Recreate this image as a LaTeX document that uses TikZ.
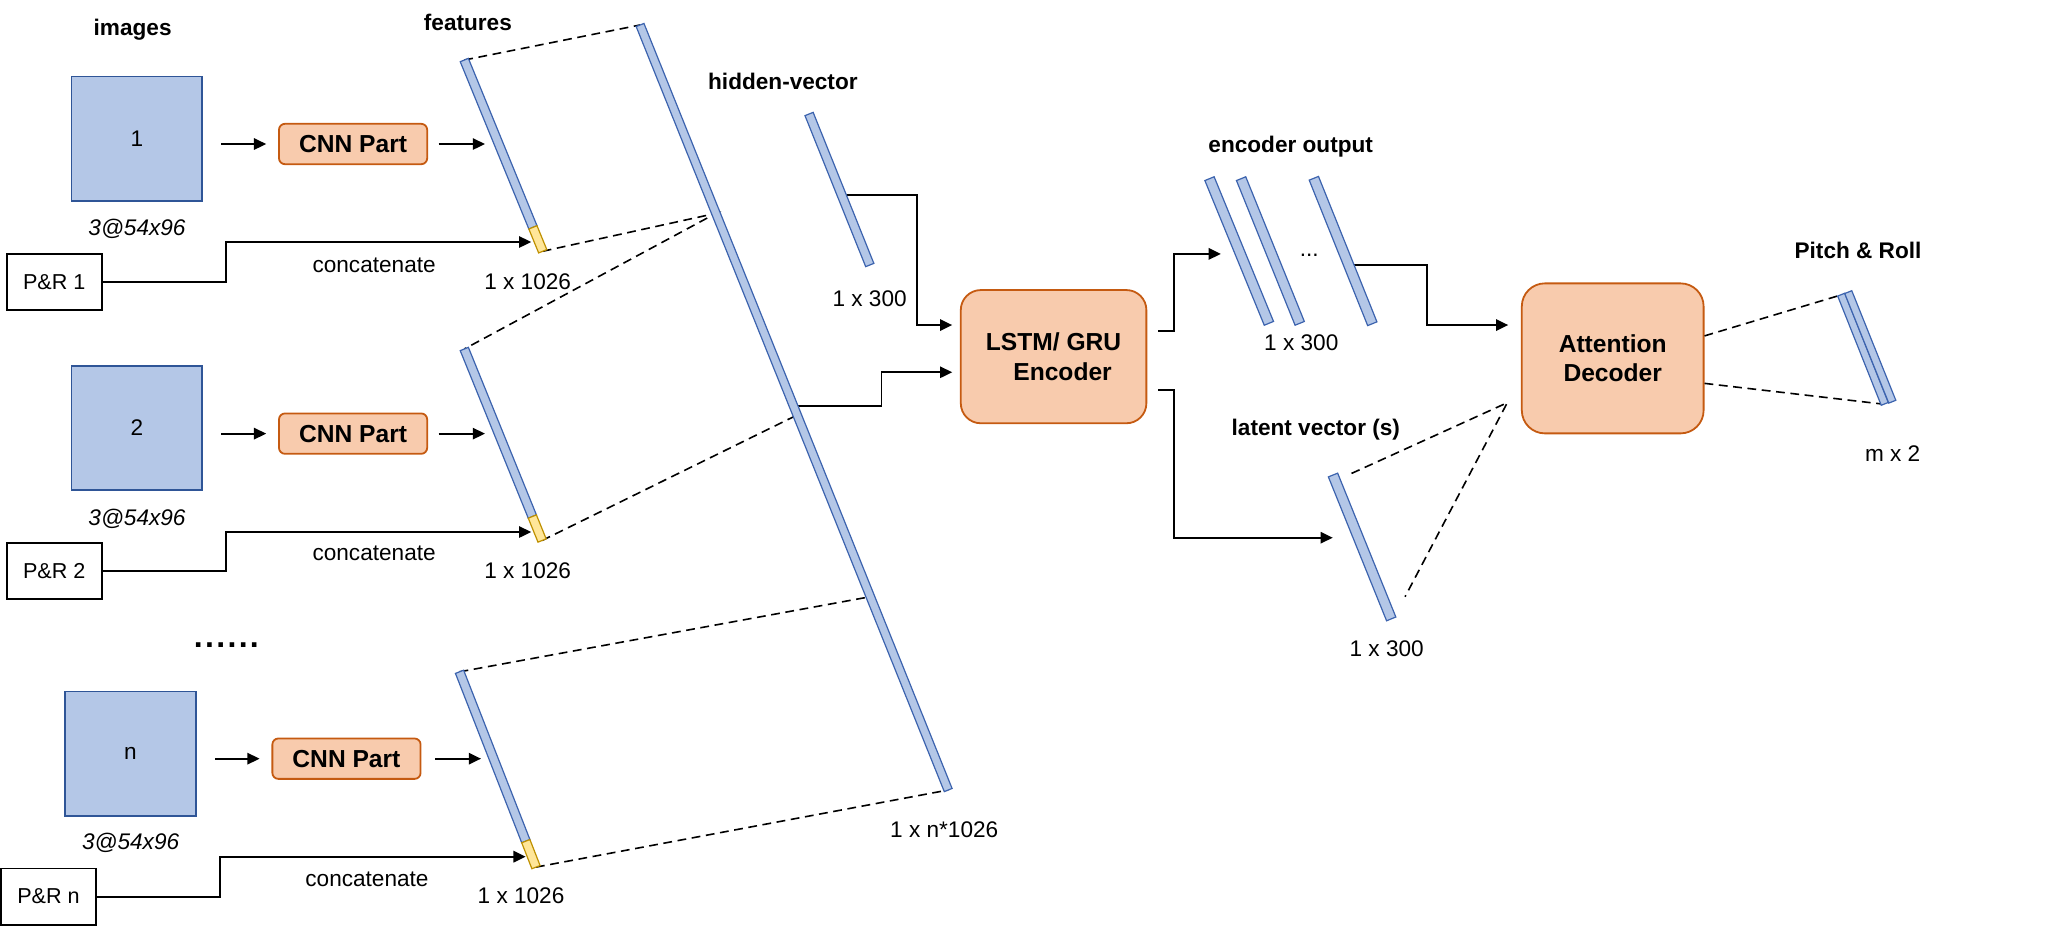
\documentclass[tikz,border=0pt]{standalone}
\usepackage{fontspec}
\setmainfont{Liberation Sans}
\usetikzlibrary{arrows.meta,calc}
\definecolor{imgfill}{HTML}{B4C7E7}
\definecolor{imgline}{HTML}{2F5597}
\definecolor{barline}{HTML}{3C63AE}
\definecolor{orfill}{HTML}{F8CBAD}
\definecolor{orline}{HTML}{C55A11}
\definecolor{yefill}{HTML}{FFE699}
\definecolor{yeline}{HTML}{BF9000}
\newcommand{\slantbar}[4][]{%
  \draw[#1] ($(#2)!#4!90:(#3)$) -- ($(#3)!#4!-90:(#2)$) -- ($(#3)!#4!90:(#2)$) -- ($(#2)!#4!-90:(#3)$) -- cycle;}
\newcommand{\mydot}{\makebox[5.6pt]{.}}
\begin{document}
\begin{tikzpicture}[x=0.66122pt,y=-0.66122pt,
  every node/.style={inner sep=0pt, font=\fontsize{11.3}{13.5}\selectfont},
  bold/.style={font=\fontsize{11.3}{13.5}\selectfont\bfseries},
  ital/.style={font=\fontsize{11.3}{13.5}\selectfont\itshape},
  imgbox/.style={draw=imgline, fill=imgfill, line width=0.9pt, minimum width=65.4pt, minimum height=62.3pt},
  cnnbox/.style={draw=orline, fill=orfill, line width=0.9pt, rounded corners=3pt, minimum width=74.1pt, minimum height=20.2pt, font=\fontsize{12.3}{14.5}\selectfont\bfseries},
  prbox/.style={draw=black, line width=0.9pt, minimum width=47.6pt, minimum height=28.2pt, font=\fontsize{10.8}{13}\selectfont},
  bigbox/.style={draw=orline, fill=orfill, line width=0.9pt, align=center, font=\fontsize{12.3}{14.8}\selectfont\bfseries},
  arr/.style={line width=0.9pt, -{Triangle[length=6.1pt,width=5.7pt]}},
  dsh/.style={line width=0.8pt, dash pattern=on 4.4pt off 2.8pt},
  bar/.style={draw=barline, fill=imgfill, line width=0.6pt},
  ybar/.style={draw=yeline, fill=yefill, line width=0.6pt}]
\useasboundingbox (0,0) rectangle (1560,700.2);

% ---------- boxes ----------
\node[imgbox] (img1) at (103.5,105) {1};
\node[imgbox] (img2) at (103.5,323.6) {2};
\node[imgbox] (imgn) at (98.7,570) {n};
\node[cnnbox] (cnn1) at (267,108.9) {CNN Part};
\node[cnnbox] (cnn2) at (267,327.9) {CNN Part};
\node[cnnbox] (cnnn) at (262,573.7) {CNN Part};
\node[prbox] (pr1) at (41,213.2) {P\&R 1};
\node[prbox] (pr2) at (41,431.7) {P\&R 2};
\node[prbox, minimum width=47.2pt] (prn) at (36.7,678) {P\&R n};
\node[bigbox, minimum width=92.8pt, minimum height=66.6pt, rounded corners=10pt] (lstm) at (796.7,269.7) {LSTM/ GRU\\\hspace*{9pt}Encoder};
\node[bigbox, minimum width=90.9pt, minimum height=75pt, rounded corners=11.5pt] (dec) at (1219.5,271) {Attention\\Decoder};

% ---------- labels ----------
\node[bold] (limages) at (100.3,22.2) {images};
\node[bold] (lfeat) at (353.8,17.2) {features};
\node[bold] (lhidden) at (592,61.8) {hidden-vector};
\node[bold] (lenc) at (976,111) {encoder output};
\node[bold] (llat) at (995,324.6) {latent vector (s)};
\node[bold] (lpr) at (1405,189) {Pitch \& Roll};
\node[ital] (s1) at (103.6,172.9) {3@54x96};
\node[ital] (s2) at (103.6,392) {3@54x96};
\node[ital] (sn) at (98.8,637.7) {3@54x96};
\node (c1) at (282.9,200.4) {concatenate};
\node (c2) at (282.9,418.4) {concatenate};
\node (cn) at (277.5,665) {concatenate};
\node (d1) at (399,213.3) {1 x 1026};
\node (d2) at (399,431.5) {1 x 1026};
\node (dn) at (394,677.6) {1 x 1026};
\node (dbig) at (714,627.7) {1 x n*1026};
\node (dh) at (657.6,226.1) {1 x 300};
\node (de) at (984,259.5) {1 x 300};
\node (dl) at (1048.6,490.3) {1 x 300};
\node (edots) at (990,193) {...};
\node[font=\fontsize{16}{18}\selectfont\bfseries] (rowdots) at (171.2,487.7) {\mydot\mydot\mydot\mydot\mydot\mydot};
\node (dm) at (1431.2,342.8) {m x 2};

% ---------- coordinates ----------
\coordinate (b1t) at (351.1,45.4);  \coordinate (b1b) at (410.4,190);
\coordinate (b2t) at (351.1,263.9); \coordinate (b2b) at (409.9,408.7);
\coordinate (b3t) at (347.5,508);   \coordinate (b3b) at (405.3,655.7);
\coordinate (b1y) at ($(b1t)!0.875!(b1b)$);
\coordinate (b2y) at ($(b2t)!0.875!(b2b)$);
\coordinate (b3y) at ($(b3t)!0.867!(b3b)$);
\coordinate (bt) at (484,18.9); \coordinate (bb) at (717,597.4);
\coordinate (pa) at ($(bt)!0.2462!(bb)$);
\coordinate (pb) at ($(bt)!0.5098!(bb)$);
\coordinate (pc) at ($(bt)!0.7473!(bb)$);
\coordinate (bbc) at ($(bt)!0.498!(bb)$);
\coordinate (ht) at (611.8,86.2); \coordinate (hb) at (657.7,200.4);
\coordinate (hvc) at ($(ht)!0.537!(hb)$);
\coordinate (eat) at (914.6,135.1); \coordinate (eab) at (959.5,244.5);
\coordinate (ebt) at (938.5,135.1); \coordinate (ebb) at (982.8,244.5);
\coordinate (ect) at (993.5,134.8); \coordinate (ecb) at (1037.7,244.8);
\coordinate (ecc) at ($(ect)!0.596!(ecb)$);
\coordinate (lt) at (1008,359.2); \coordinate (lb) at (1052,468);
\coordinate (p1t) at (1392.3,222.8); \coordinate (p1b) at (1425.2,305.4);
\coordinate (p2t) at (1397.6,220.9); \coordinate (p2b) at (1430.9,303.75);
\coordinate (ld1) at (1022,358); \coordinate (ld2) at (1062.5,451.2);
\coordinate (apex) at (1139.8,304.5);
\coordinate (pdt) at (1389.6,223.8); \coordinate (pdb) at (1423.2,305.5);
\coordinate (y1) at (401.7,183); \coordinate (y2) at (401.7,402.3); \coordinate (yn) at (397.5,647.8);
\coordinate (hvin) at ($(lstm.west |- 0,245.8)+(-5.8,0)$);
\coordinate (bgin) at ($(lstm.west |- 0,281.5)+(-5.8,0)$);
\coordinate (lo1) at ($(lstm.east |- 0,250)+(8.2,0)$);
\coordinate (lo2) at ($(lstm.east |- 0,295)+(8.2,0)$);
\coordinate (eoin) at (923.2,192);
\coordinate (latin) at (1007.8,406.6);
\coordinate (decin) at ($(dec.west |- 0,245.8)+(-9.6,0)$);

% ---------- dashed ----------
\draw[dsh] (b1t) -- (bt);
\draw[dsh] (b1b) -- (pa) -- (b2t);
\draw[dsh] (b2b) -- (pb);
\draw[dsh] (b3t) -- (pc);
\draw[dsh] (b3b) -- (bb);
\draw[dsh] (ld1) -- (apex) -- (ld2);
\draw[dsh] (dec.east |- 0,254) -- (pdt);
\draw[dsh] (dec.east |- 0,289.9) -- (pdb);

% ---------- connectors ----------
\draw[arr] ($(img1.east |- cnn1.west)+(13.5,0)$) -- ($(cnn1.west)+(-9,0)$);
\draw[arr] ($(img2.east |- cnn2.west)+(13.5,0)$) -- ($(cnn2.west)+(-9,0)$);
\draw[arr] ($(imgn.east |- cnnn.west)+(14,0)$) -- ($(cnnn.west)+(-9,0)$);
\draw[arr] ($(cnn1.east)+(8,0)$) -- ++(35,0);
\draw[arr] ($(cnn2.east)+(8,0)$) -- ++(35,0);
\draw[arr] ($(cnnn.east)+(10.5,0)$) -- ++(34.5,0);
\draw[arr] (pr1.east) -| (171,183) -- (y1);
\draw[arr] (pr2.east) -| (171,402.3) -- (y2);
\draw[arr] (prn.east) -| (166.1,647.8) -- (yn);
\draw[arr] (hvc) -| (693.2,245.8) -- (hvin);
\draw[arr] (bbc) -| (666.6,281.5) -- (bgin);
\draw[arr] (lo1) -| (887.7,192) -- (eoin);
\draw[arr] (lo2) -| (887.7,406.6) -- (latin);
\draw[arr] (ecc) -| (1078.8,245.8) -- (decin);

% ---------- bars ----------
\slantbar[bar]{b1t}{b1y}{2.2pt}
\slantbar[ybar]{b1y}{b1b}{2.2pt}
\slantbar[bar]{b2t}{b2y}{2.2pt}
\slantbar[ybar]{b2y}{b2b}{2.2pt}
\slantbar[bar]{b3t}{b3y}{2.2pt}
\slantbar[ybar]{b3y}{b3b}{2.2pt}
\slantbar[bar]{bt}{bb}{2.1pt}
\slantbar[bar]{ht}{hb}{2.2pt}
\slantbar[bar]{eat}{eab}{2.5pt}
\slantbar[bar]{ebt}{ebb}{2.5pt}
\slantbar[bar]{ect}{ecb}{2.5pt}
\slantbar[bar]{lt}{lb}{2.5pt}
\slantbar[bar]{p1t}{p1b}{1.9pt}
\slantbar[bar]{p2t}{p2b}{1.9pt}
\end{tikzpicture}
\end{document}
